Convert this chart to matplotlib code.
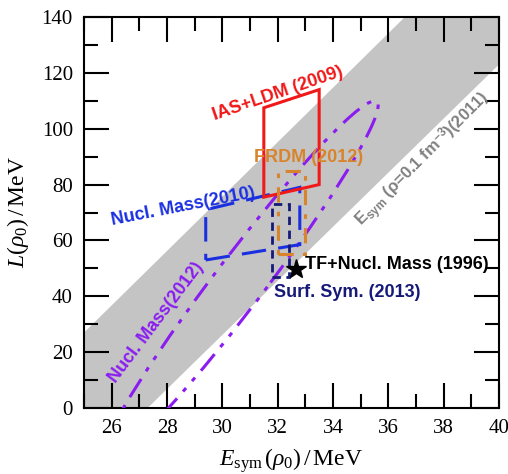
import matplotlib
matplotlib.use("Agg")
import matplotlib.pyplot as plt
from matplotlib.patches import Polygon, Rectangle, Ellipse
from matplotlib.ticker import MultipleLocator

plt.rcParams['font.family'] = ['Liberation Serif', 'DejaVu Serif']
plt.rcParams['mathtext.fontset'] = 'custom'
plt.rcParams['mathtext.rm'] = 'Liberation Serif'
plt.rcParams['mathtext.it'] = 'Liberation Serif:italic'
plt.rcParams['mathtext.bf'] = 'Liberation Sans:bold'
plt.rcParams['mathtext.sf'] = 'Liberation Sans:bold'

# gray band: Esym(rho=0.1 fm^-3) constraint (2011), corner points
band_E = [25.0, 27.3, 40.0, 40.0, 36.6, 25.0]
band_L = [0.0, 0.0, 123.0, 140.0, 140.0, 27.0]

# IAS+LDM (2009) quadrilateral
ias_E = [31.5, 33.5, 33.5, 31.5]
ias_L = [75.5, 80.0, 114.0, 107.5]

# Nucl. Mass (2010) quadrilateral
nm10_E = [29.4, 32.8, 32.8, 29.4]
nm10_L = [53.0, 58.5, 79.0, 71.0]

# FRDM (2012) box: E range, L range
frdm_E = [32.0, 33.0]
frdm_L = [55.0, 85.0]

# Surf. Sym. (2013) box
ss_E = [31.8, 32.4]
ss_L = [46.9, 72.9]

# Nucl. Mass (2012) correlation ellipse: centre, axes, angle
nm12_center = (30.62, 45.0)
nm12_major = 130.3
nm12_minor = 2.25
nm12_angle = 85.7

# TF+Nucl. Mass (1996) point
tf_E = [32.65]
tf_L = [49.9]

fig = plt.figure(figsize=(5.08, 4.74), dpi=100)
ax = fig.add_axes([84/508, 1-408/474, 415/508, 391/474])

ax.add_patch(Polygon(list(zip(band_E, band_L)), closed=True,
                     facecolor='#c4c4c4', edgecolor='none', zorder=1))

ax.add_patch(Ellipse(nm12_center, nm12_major, nm12_minor, angle=nm12_angle,
                     fill=False, edgecolor='#8a1cf0', lw=2.2,
                     linestyle=(0, (7, 3, 1.5, 3, 1.5, 3)), zorder=3))

ax.add_patch(Polygon(list(zip(nm10_E, nm10_L)), closed=True, fill=False,
                     edgecolor='#1a2fe0', lw=2.2, linestyle=(0, (8, 4)), zorder=4))

ax.add_patch(Polygon(list(zip(ias_E, ias_L)), closed=True, fill=False,
                     edgecolor='#f01818', lw=2.2, zorder=5))

ax.add_patch(Rectangle((frdm_E[0], frdm_L[0]), frdm_E[1]-frdm_E[0], frdm_L[1]-frdm_L[0],
                       fill=False, edgecolor='#d8842c', lw=2.2,
                       linestyle=(0, (5, 3, 1.5, 3)), zorder=6))

ax.add_patch(Rectangle((ss_E[0], ss_L[0]), ss_E[1]-ss_E[0], ss_L[1]-ss_L[0],
                       fill=False, edgecolor='#151a78', lw=2.0,
                       linestyle=(0, (3, 2)), zorder=7))

ax.plot(tf_E, tf_L, marker='*', color='black', markersize=15, linestyle='none', zorder=8)

# labels
sans = ['Liberation Sans', 'DejaVu Sans']
fs = 13
ax.text(32.0, 112.5, 'IAS+LDM (2009)', color='#f01818', fontsize=fs, fontweight='bold',
        family=sans, rotation=19, ha='center', va='center', zorder=9)
ax.text(33.1, 89.6, 'FRDM (2012)', color='#d8842c', fontsize=fs, fontweight='bold',
        family=sans, ha='center', va='center', zorder=9)
ax.text(28.6, 72.0, 'Nucl. Mass(2010)', color='#1a2fe0', fontsize=fs, fontweight='bold',
        family=sans, rotation=11, ha='center', va='center', zorder=9)
ax.text(33.0, 51.3, 'TF+Nucl. Mass (1996)', color='black', fontsize=fs, fontweight='bold',
        family=sans, ha='left', va='center', zorder=9)
ax.text(31.85, 41.5, 'Surf. Sym. (2013)', color='#151a78', fontsize=fs, fontweight='bold',
        family=sans, ha='left', va='center', zorder=9)
ax.text(27.6, 30.5, 'Nucl. Mass(2012)', color='#8a1cf0', fontsize=fs, fontweight='bold',
        family=sans, rotation=53, ha='center', va='center', zorder=9)
ax.text(37.25, 89.0, r'$\mathbf{E}_{\mathsf{sym}}$ (ρ=0.1 fm$^{\mathsf{-3}}$)(2011)',
        color='#808080', fontsize=12, fontweight='bold', family=sans,
        rotation=45, ha='center', va='center', zorder=9)

ax.set_xlim(25, 40)
ax.set_ylim(0, 140)
ax.xaxis.set_major_locator(MultipleLocator(2))
ax.xaxis.set_minor_locator(MultipleLocator(1))
ax.yaxis.set_major_locator(MultipleLocator(20))
ax.yaxis.set_minor_locator(MultipleLocator(10))
ax.tick_params(which='both', direction='in', top=True, right=True, width=1.5,
               labelsize=15, pad=8)
ax.tick_params(which='major', length=18)
ax.tick_params(which='minor', length=10)
for sp in ax.spines.values():
    sp.set_linewidth(1.5)

ax.set_xlabel(r'$E_{\mathrm{sym}}\,(\rho_0)\,/\,\mathrm{MeV}$', fontsize=17, labelpad=6)
ax.set_ylabel(r'$L(\rho_0)\,/\,\mathrm{MeV}$', fontsize=17, labelpad=8)

fig.savefig('out.png', dpi=100)
